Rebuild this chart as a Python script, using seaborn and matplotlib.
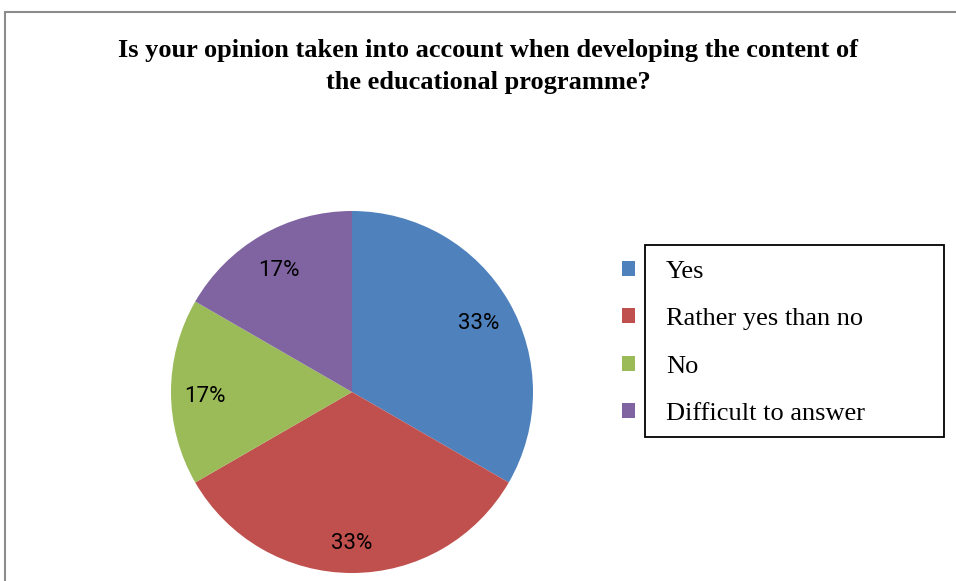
import matplotlib
matplotlib.use("Agg")
import matplotlib.pyplot as plt
from matplotlib.patches import Patch, Rectangle
from matplotlib.transforms import offset_copy
import seaborn as sns

# survey answers (share of respondents)
categories = ["Yes", "Rather yes than no", "No", "Difficult to answer"]
values = [2, 2, 1, 1]
pct_labels = ["33%", "33%", "17%", "17%"]
colors = ["#4F81BD", "#C0504D", "#9BBB59", "#8064A2"]

sns.set_theme(style="white")
plt.rcParams['font.family'] = ['Liberation Serif', 'DejaVu Serif']
plt.rcParams['text.color'] = 'black'

fig = plt.figure(figsize=(9.56, 5.81), dpi=100)

# outer chart frame (grey), cropped at the right and bottom
fig.patches.append(Rectangle((5 / 956, -0.05), 1.0, 1 - 12 / 581 + 0.05,
                             transform=fig.transFigure, facecolor="white",
                             edgecolor="#8c8c8c", linewidth=1.5, zorder=-1))

fig.text(488 / 956, 1 - 51 / 581, "Is your opinion taken into account when developing the content of",
         ha="center", va="center", fontsize=19, fontweight="bold", color="black")
fig.text(488 / 956, 1 - 83 / 581, "the educational programme?",
         ha="center", va="center", fontsize=19, fontweight="bold", color="black")

ax = fig.add_axes([171 / 956, 8 / 581, 362 / 956, 362 / 581])
ax.set_zorder(1)
wedges, _, autotexts = ax.pie(values, colors=colors, startangle=90, counterclock=False,
                              autopct="%1.0f%%", pctdistance=0.81,
                              wedgeprops=dict(linewidth=0))
for t, lab in zip(autotexts, pct_labels):
    t.set_text(lab)
    t.set_fontfamily("Roboto")
    t.set_fontsize(16)
    t.set_color("black")
    t.set_transform(offset_copy(t.get_transform(), fig=fig, y=-5, units="dots"))
ax.set_xlim(-1, 1)
ax.set_ylim(-1, 1)
ax.set_aspect("equal")
ax.axis("off")

handles = [Patch(facecolor=c, edgecolor="none") for c in colors]
leg = fig.legend(handles, categories, loc="upper left",
                 bbox_to_anchor=(622 / 956, 1 - 261 / 581),
                 frameon=False, fontsize=19, handlelength=0.5, handleheight=0.5,
                 handletextpad=1.17, labelspacing=0.96, borderpad=0, borderaxespad=0)
for t in leg.get_texts():
    t.set_color("black")
leg.set_zorder(5)

# white box with black border covering the legend text
fig.patches.append(Rectangle((645 / 956, 1 - 437 / 581), 299 / 956, 192 / 581,
                             transform=fig.transFigure, facecolor="white",
                             edgecolor="black", linewidth=1.3, zorder=4))

fig.savefig("out.png", dpi=100)
